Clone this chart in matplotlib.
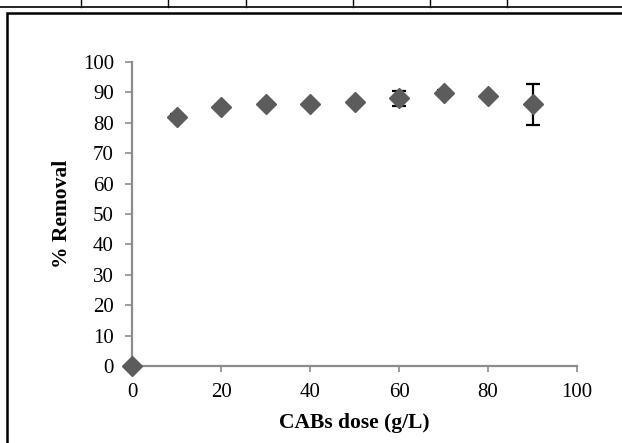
import matplotlib
matplotlib.use("Agg")
import matplotlib.pyplot as plt
from matplotlib.patches import Rectangle
from matplotlib.lines import Line2D

dose = [0, 10, 20, 30, 40, 50, 60, 70, 80, 90]
removal = [0, 81.9, 85.3, 86.2, 86.2, 86.9, 88.1, 89.9, 88.9, 86.1]
err = [0, 1.0, 0.5, 0.5, 0.8, 0.5, 2.5, 0.8, 0.3, 6.7]
xticks = [0, 20, 40, 60, 80, 100]
yticks = [0, 10, 20, 30, 40, 50, 60, 70, 80, 90, 100]

plt.rcParams['font.family'] = ['Liberation Serif', 'DejaVu Serif']

W, H = 622, 443
fig = plt.figure(figsize=(W / 100, H / 100), dpi=100)
ax = fig.add_axes([132 / W, 1 - 366 / H, (577 - 132) / W, (366 - 62) / H])

ax.errorbar(dose, removal, yerr=err, fmt='none', ecolor='black', elinewidth=1.6,
            capsize=5, capthick=1.6, zorder=2)
ax.plot(dose, removal, linestyle='none', marker='D', markersize=10.5,
        color='#5c5c5c', markeredgecolor='#5c5c5c', clip_on=False, zorder=3)

ax.set_xlim(0, 100)
ax.set_ylim(0, 100)
ax.set_xticks(xticks)
ax.set_yticks(yticks)
ax.tick_params(axis='both', labelsize=15, colors='#8c8c8c', labelcolor='black',
               width=1.2, direction='out')
ax.tick_params(axis='y', length=5, pad=8)
ax.tick_params(axis='x', length=4, pad=8)
for s in ['top', 'right']:
    ax.spines[s].set_visible(False)
for s in ['left', 'bottom']:
    ax.spines[s].set_color('#8c8c8c')
    ax.spines[s].set_linewidth(1.6)

ax.set_xlabel('CABs dose (g/L)', fontsize=15.5, fontweight='bold', labelpad=8)
ax.set_ylabel('% Removal', fontsize=15.5, fontweight='bold', labelpad=8)

# outer frame and table lines
fig.add_artist(Rectangle((6.7 / W, -0.1), 1.2, 1 - 12.5 / H + 0.1, transform=fig.transFigure,
                         fill=False, edgecolor='black', linewidth=1.8))
fig.add_artist(Line2D([0, 1], [1 - 7.3 / H, 1 - 7.3 / H], transform=fig.transFigure,
                      color='black', linewidth=1.2))
for xv in [80.7, 168.3, 245.7, 353.3, 430.3, 507.3]:
    fig.add_artist(Line2D([xv / W, xv / W], [1 - 7.3 / H, 1], transform=fig.transFigure,
                          color='black', linewidth=1.0))

fig.savefig('out.png', dpi=100)
